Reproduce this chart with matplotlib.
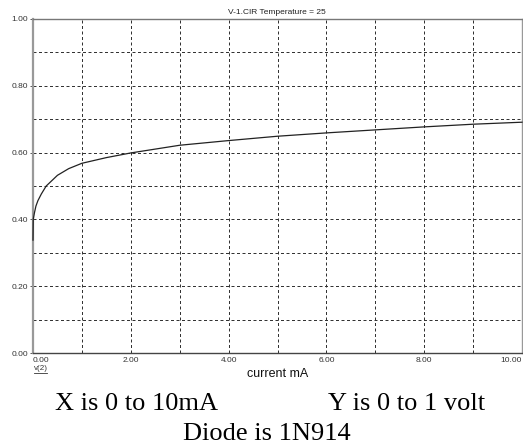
import matplotlib
matplotlib.use("Agg")
import matplotlib.pyplot as plt
from matplotlib.lines import Line2D
import numpy as np

# data
current_ma = [0.0, 0.005, 0.03, 0.06, 0.1, 0.17, 0.27, 0.5, 0.73, 1.0, 1.5, 2.0,
              3.0, 4.0, 5.0, 6.0, 7.0, 8.0, 9.0, 10.0]
volts = [0.338, 0.400, 0.420, 0.440, 0.456, 0.476, 0.500, 0.532, 0.552, 0.568, 0.585, 0.599,
         0.622, 0.636, 0.649, 0.659, 0.668, 0.677, 0.685, 0.691]
xtick_vals = [0, 2, 4, 6, 8, 10]
xtick_labels = ["0.00", "2.00", "4.00", "6.00", "8.00", "10.00"]
ytick_vals = [0.0, 0.2, 0.4, 0.6, 0.8, 1.0]
ytick_labels = ["0.00", "0.20", "0.40", "0.60", "0.80", "1.00"]
title = "V-1.CIR Temperature = 25"
xlabel = "current mA"
trace_label = "v(2)"
caption1a = "X is 0 to 10mA"
caption1b = "Y is 0 to 1 volt"
caption2 = "Diode is 1N914"

W, H = 523, 446
fig = plt.figure(figsize=(W / 100, H / 100), dpi=100)
fig.patch.set_facecolor("white")

def fx(px):
    return px / W

def fy(py):
    return 1 - py / H

left, right, top, bottom = 33, 522, 19, 353
ax = fig.add_axes([fx(left), fy(bottom), fx(right - left), (bottom - top) / H])
ax.set_xlim(0, 10)
ax.set_ylim(0, 1)

ax.set_xticks(xtick_vals)
ax.set_xticklabels(xtick_labels)
ax.set_yticks(ytick_vals)
ax.set_yticklabels(ytick_labels)
ax.set_xticks(np.arange(0, 11, 1), minor=True)
ax.set_yticks(np.arange(0, 1.01, 0.1), minor=True)
ax.grid(True, which="both", color="#333333", linewidth=0.72, linestyle=(0, (3, 2.5)))
ax.set_axisbelow(True)

ax.plot(current_ma, volts, color="#222222", linewidth=0.9, zorder=3, clip_on=False)

ax.tick_params(axis="both", which="minor", length=0)
ax.tick_params(axis="y", which="major", length=2.5, width=0.7, color="#555555",
               labelsize=6, pad=1, labelcolor="#333333")
ax.tick_params(axis="x", which="major", length=0, labelsize=6, pad=3,
               labelcolor="#333333")
for t in ax.get_xticklabels() + ax.get_yticklabels():
    t.set_fontfamily("Liberation Sans")
xl = ax.get_xticklabels()
xl[0].set_horizontalalignment("left")
xl[-1].set_horizontalalignment("right")

for side, col, lw in [("left", "#999999", 1.6), ("right", "#999999", 1.0),
                      ("top", "#777777", 1.0), ("bottom", "#444444", 1.0)]:
    ax.spines[side].set_color(col)
    ax.spines[side].set_linewidth(lw)

fig.text(fx(277), fy(13), title, ha="center", va="center", fontsize=6,
         family="Liberation Sans", color="#222222")
fig.text(fx(278), fy(374), xlabel, ha="center", va="center", fontsize=9,
         family="Liberation Sans", color="#111111")
fig.text(fx(34), fy(369), trace_label, ha="left", va="center", fontsize=5.8,
         family="Liberation Sans", color="#333333")
fig.add_artist(Line2D([fx(34), fx(47)], [fy(373), fy(373)], color="#333333", linewidth=0.6))

fig.text(fx(55), fy(404), caption1a, ha="left", va="center", fontsize=19,
         family="Liberation Serif", color="black")
fig.text(fx(328), fy(404), caption1b, ha="left", va="center", fontsize=19,
         family="Liberation Serif", color="black")
fig.text(fx(267), fy(434), caption2, ha="center", va="center", fontsize=19,
         family="Liberation Serif", color="black")

fig.savefig("out.png", dpi=100, facecolor="white")
